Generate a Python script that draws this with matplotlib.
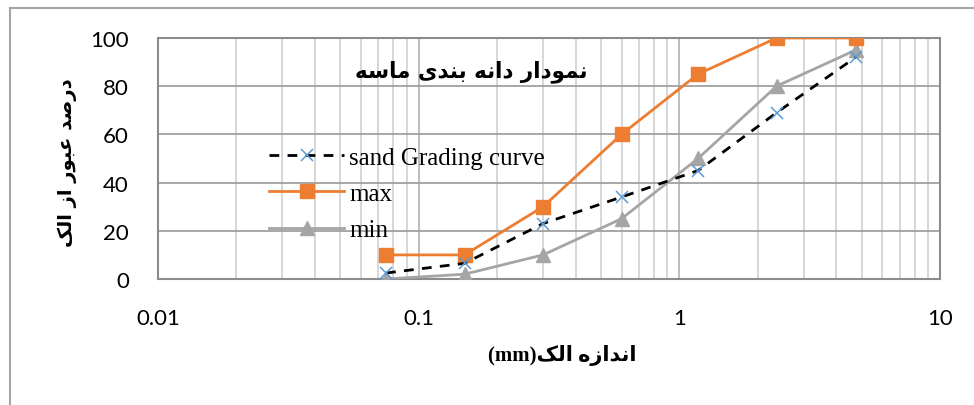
import matplotlib
matplotlib.use('Agg')
import matplotlib.pyplot as plt
from matplotlib.lines import Line2D
from matplotlib.ticker import FixedLocator, LogLocator, NullFormatter

# sieve sizes (mm) and percent passing
sieve = [0.075, 0.15, 0.3, 0.6, 1.18, 2.36, 4.75]
sand = [2.5, 6.5, 23, 34, 45, 69, 92]
upper = [10, 10, 30, 60, 85, 100, 100]
lower = [0, 2, 10, 25, 50, 80, 95]

x_ticks = [0.01, 0.1, 1, 10]
x_tick_labels = ['0.01', '0.1', '1', '10']
y_ticks = [0, 20, 40, 60, 80, 100]

title_txt = 'نمودار دانه بندی ماسه'
ylabel_txt = 'درصد عبور از الک'
xlabel_txt = 'اندازه الک'

# simple arabic/persian shaping (matplotlib has no text shaping)
FORMS = {
    'ا': ('\uFE8D', '\uFE8E', None, None),
    'ب': ('\uFE8F', '\uFE90', '\uFE91', '\uFE92'),
    'د': ('\uFEA9', '\uFEAA', None, None),
    'ر': ('\uFEAD', '\uFEAE', None, None),
    'ز': ('\uFEAF', '\uFEB0', None, None),
    'س': ('\uFEB1', '\uFEB2', '\uFEB3', '\uFEB4'),
    'ص': ('\uFEB9', '\uFEBA', '\uFEBB', '\uFEBC'),
    'ع': ('\uFEC9', '\uFECA', '\uFECB', '\uFECC'),
    'ل': ('\uFEDD', '\uFEDE', '\uFEDF', '\uFEE0'),
    'م': ('\uFEE1', '\uFEE2', '\uFEE3', '\uFEE4'),
    'ن': ('\uFEE5', '\uFEE6', '\uFEE7', '\uFEE8'),
    'ه': ('\uFEE9', '\uFEEA', '\uFEEB', '\uFEEC'),
    'و': ('\uFEED', '\uFEEE', None, None),
    'ی': ('\uFBFC', '\uFBFD', '\uFBFE', '\uFBFF'),
    'ک': ('\uFB8E', '\uFB8F', '\uFB90', '\uFB91'),
}


def shape(s):
    out = []
    for i, c in enumerate(s):
        if c not in FORMS:
            out.append(c)
            continue
        prev = s[i - 1] if i > 0 else ''
        nxt = s[i + 1] if i < len(s) - 1 else ''
        join_prev = prev in FORMS and FORMS[prev][2] is not None
        join_next = FORMS[c][2] is not None and nxt in FORMS
        iso, fin, ini, med = FORMS[c]
        if join_prev and join_next:
            out.append(med)
        elif join_prev:
            out.append(fin)
        elif join_next:
            out.append(ini)
        else:
            out.append(iso)
    return ''.join(out)[::-1]


fig = plt.figure(figsize=(9.74, 4.06), dpi=100)
ax = fig.add_axes([0.1622, 0.3103, 0.8029, 0.5937])

ax.plot(sieve, sand, color='black', ls=(0, (3.5, 3)), lw=2, marker='x', ms=9,
        mec='#5B9BD5', mew=1.1, label='sand Grading curve', zorder=5)
ax.plot(sieve, upper, color='#ED7D31', lw=2, marker='s', ms=10,
        mec='#ED7D31', mfc='#ED7D31', label='max', zorder=4)
ax.plot(sieve, lower, color='#A5A5A5', lw=2, marker='^', ms=10,
        mec='#A5A5A5', mfc='#A5A5A5', label='min', zorder=3)

ax.set_xscale('log')
ax.set_xlim(0.01, 10)
ax.set_ylim(0, 100)
ax.xaxis.set_major_locator(FixedLocator(x_ticks))
ax.set_xticklabels(x_tick_labels)
ax.xaxis.set_minor_locator(LogLocator(base=10, subs=range(2, 10)))
ax.xaxis.set_minor_formatter(NullFormatter())
ax.set_yticks(y_ticks)

ax.grid(True, which='major', axis='y', color='#A0A0A0', lw=1.3)
ax.grid(True, which='major', axis='x', color='#B8B8B8', lw=1.3)
ax.grid(True, which='minor', axis='x', color='#D4D4D4', lw=1.3)
ax.set_axisbelow(True)

for sp in ax.spines.values():
    sp.set_color('#8C8C8C')
    sp.set_linewidth(1.5)

ax.tick_params(which='both', length=0)
ax.tick_params(axis='x', pad=21)
ax.tick_params(axis='y', pad=21)
for lab in ax.get_xticklabels() + ax.get_yticklabels():
    lab.set_fontfamily('Lato')
    lab.set_fontsize(16)

ax.text(0.40, 0.865, shape(title_txt), transform=ax.transAxes, ha='center',
        va='center', fontsize=15.5, fontweight='bold', family='DejaVu Sans')

fig.text(0.069, 0.6, shape(ylabel_txt), rotation=90, ha='center', va='center',
         fontsize=14, fontweight='bold', family='DejaVu Sans')
fig.text(0.577, 0.125, '(mm)' + shape(xlabel_txt), ha='center', va='center',
         fontsize=15, fontweight='bold', family=['Liberation Serif', 'DejaVu Sans'])

leg = ax.legend(loc='upper left', bbox_to_anchor=(0.142, 0.55), frameon=False,
                prop={'family': 'Liberation Serif', 'size': 18},
                handlelength=3.0, handletextpad=0.2, labelspacing=0.55,
                borderpad=0, borderaxespad=0)

# outer chart border (partly outside the image)
fig.add_artist(Line2D([0.0103, 1.0], [0.978, 0.978], color='#A6A6A6', lw=1.5))
fig.add_artist(Line2D([0.0103, 0.0103], [0.0, 0.978], color='#A6A6A6', lw=1.5))

fig.savefig('out.png', dpi=100)
